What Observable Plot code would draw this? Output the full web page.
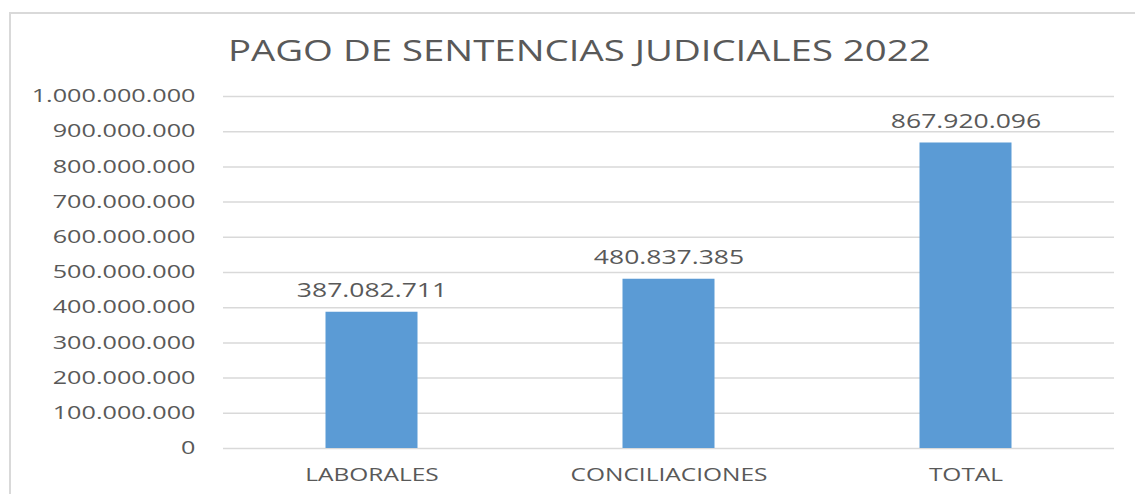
<!DOCTYPE html>
<html>
<head>
<meta charset="utf-8">
<script src="https://cdn.jsdelivr.net/npm/d3@7"></script>
<script src="https://cdn.jsdelivr.net/npm/@observablehq/plot@0.6"></script>
<style>
  html, body { margin: 0; padding: 0; background: #fff; overflow: hidden; }
  #wrap { position: relative; width: 1135px; height: 494px; overflow: hidden; font-family: "Open Sans", sans-serif; }
  #frame { position: absolute; left: 9px; top: 12px; width: 1160px; height: 520px; border: 2px solid #d9d9d9; box-sizing: border-box; }
  #title { position: absolute; left: 0; top: 35px; width: 1158px; text-align: center; font-size: 29.5px; line-height: 1; color: #595959; white-space: nowrap; }
  #title span { display: inline-block; transform: scaleX(1.3); transform-origin: 50% 50%; }
  #chart { position: absolute; left: 0; top: 70px; }
</style>
</head>
<body>
<div id="wrap">
  <div id="frame"></div>
  <div id="title"><span>PAGO DE SENTENCIAS JUDICIALES 2022</span></div>
  <div id="chart"></div>
</div>
<script>
const categories = ["LABORALES", "CONCILIACIONES", "TOTAL"];
const values = [387082711, 480837385, 867920096];
const yTicks = [0, 100000000, 200000000, 300000000, 400000000, 500000000, 600000000, 700000000, 800000000, 900000000, 1000000000];

const es = d3.formatLocale({decimal: ",", thousands: ".", grouping: [3], currency: ["$", ""]});
const fmt = es.format(",d");

const data = categories.map((c, i) => ({category: c, value: values[i]}));

const chart = Plot.plot({
  width: 1135,
  height: 424,
  marginTop: 26,
  marginBottom: 46,
  marginLeft: 223,
  marginRight: 21,
  style: {fontFamily: "Open Sans, sans-serif", color: "#595959", background: "transparent", overflow: "visible"},
  x: {domain: categories, padding: 0, label: null},
  y: {domain: [0, 1000000000], label: null},
  marks: [
    Plot.ruleY(yTicks, {stroke: "#d9d9d9", strokeWidth: 1.5}),
    Plot.barY(data, {x: "category", y: "value", fill: "#5B9BD5", insetLeft: 102.5, insetRight: 102.5}),
    Plot.text(data, {x: "category", y: "value", text: d => fmt(d.value), lineAnchor: "bottom", dy: -15, fontSize: 19.5, fill: "#595959"}),
    Plot.axisY({ticks: yTicks, tickSize: 0, tickPadding: 28, tickFormat: fmt, fontSize: 18, label: null}),
    Plot.axisX({tickSize: 0, tickPadding: 20, fontSize: 18, label: null})
  ]
});

// Horizontal stretch of each text around its own anchor point
chart.querySelectorAll("text").forEach(t => {
  const g = t.closest("g[aria-label]");
  const isY = g && g.getAttribute("aria-label") === "y-axis tick label";
  const s = isY ? 1.4 : 1.36;
  const x = parseFloat(t.getAttribute("x")) || 0;
  const prev = t.getAttribute("transform") || "";
  t.setAttribute("transform", `${prev} translate(${x},0) scale(${s},1) translate(${-x},0)`.trim());
});

document.getElementById("chart").appendChild(chart);
</script>
</body>
</html>
